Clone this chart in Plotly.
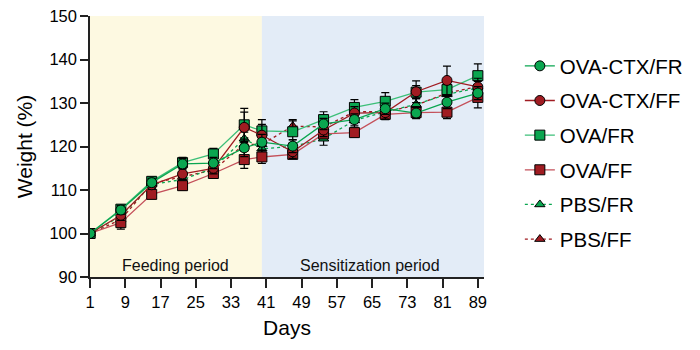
import plotly.graph_objects as go

days = [1, 8, 15, 22, 29, 36, 40, 47, 54, 61, 68, 75, 82, 89]
x_ticks = [1, 9, 17, 25, 33, 41, 49, 57, 65, 73, 81, 89]
y_ticks = [90, 100, 110, 120, 130, 140, 150]

ova_ctx_fr = [100, 105.4, 111.7, 116.0, 116.2, 119.7, 121.0, 120.1, 125.2, 126.2, 128.7, 127.7, 130.2, 132.3]
ova_ctx_fr_err = [0, 1.0, 1.0, 1.2, 1.3, 2.0, 1.8, 1.5, 1.3, 1.3, 1.3, 1.3, 1.5, 1.5]
ova_ctx_ff = [100, 104.2, 111.2, 113.7, 115.0, 124.4, 122.6, 118.8, 123.8, 127.7, 127.8, 132.6, 135.2, 133.7]
ova_ctx_ff_err = [0, 1.2, 1.0, 1.3, 1.3, 3.5, 2.5, 1.5, 1.5, 1.5, 1.5, 2.5, 3.3, 2.0]
ova_fr = [100, 105.6, 112.0, 116.3, 118.3, 125.0, 123.6, 123.4, 126.2, 129.0, 130.4, 132.5, 133.1, 136.3]
ova_fr_err = [0, 1.0, 1.0, 1.2, 1.3, 3.8, 2.6, 2.5, 1.8, 1.8, 2.0, 1.5, 1.5, 2.7]
ova_ff = [100, 102.5, 109.0, 111.0, 113.8, 117.0, 117.6, 118.2, 122.9, 123.2, 127.4, 127.8, 127.9, 131.3]
ova_ff_err = [0, 1.5, 1.0, 1.0, 1.0, 2.0, 1.5, 1.0, 1.0, 1.0, 1.2, 1.2, 1.5, 2.4]
pbs_fr = [100, 104.0, 111.3, 112.4, 115.0, 121.8, 119.5, 120.0, 121.8, 126.0, 128.0, 129.7, 132.0, 133.5]
pbs_fr_err = [0, 1.2, 1.0, 1.2, 1.2, 1.5, 1.5, 1.5, 1.5, 1.5, 1.5, 1.5, 1.5, 1.5]
pbs_ff = [100, 103.2, 111.5, 113.0, 114.6, 120.5, 120.5, 124.7, 124.5, 128.0, 128.0, 129.5, 132.3, 133.8]
pbs_ff_err = [0, 1.2, 1.0, 1.2, 1.2, 1.5, 1.5, 1.5, 1.5, 1.5, 1.5, 1.5, 1.5, 1.5]

GREEN = "#0aa650"
RED = "#a01c22"
RED_LIGHT = "#c4505a"

series = [
    # name, y, err, symbol, marker colour, line colour, dash, legend rank
    ("PBS/FF", pbs_ff, pbs_ff_err, "triangle-up", RED, RED, "dot", 6),
    ("PBS/FR", pbs_fr, pbs_fr_err, "triangle-up", GREEN, GREEN, "dot", 5),
    ("OVA/FF", ova_ff, ova_ff_err, "square", RED, RED_LIGHT, "solid", 4),
    ("OVA/FR", ova_fr, ova_fr_err, "square", GREEN, "#3cbf78", "solid", 3),
    ("OVA-CTX/FF", ova_ctx_ff, ova_ctx_ff_err, "circle", RED, RED, "solid", 2),
    ("OVA-CTX/FR", ova_ctx_fr, ova_ctx_fr_err, "circle", GREEN, GREEN, "solid", 1),
]

fig = go.Figure()
for name, y, err, sym, mcol, lcol, dash, rank in series:
    fig.add_trace(go.Scatter(
        x=days, y=y, name=name, mode="lines+markers",
        legendrank=rank, legendgroup=name,
        line=dict(color=lcol, width=1.3, dash=dash),
        marker=dict(symbol=sym, size=10 if sym != "triangle-up" else 9,
                    color=mcol, line=dict(color="black", width=1)),
        error_y=dict(type="data", array=err, visible=True,
                     color="black", thickness=1.2, width=4),
    ))

fig.add_shape(type="rect", xref="x", yref="paper", x0=1, x1=40, y0=0, y1=1,
              fillcolor="#fdf9e1", line=dict(width=0), layer="below")
fig.add_shape(type="rect", xref="x", yref="paper", x0=40, x1=90.4, y0=0, y1=1,
              fillcolor="#e3ecf7", line=dict(width=0), layer="below")

fig.add_annotation(x=20.3, y=92.6, xref="x", yref="y", text="Feeding period",
                   showarrow=False, yanchor="middle", font=dict(size=16, color="#111"))
fig.add_annotation(x=64.5, y=92.6, xref="x", yref="y", text="Sensitization period",
                   showarrow=False, yanchor="middle", font=dict(size=16, color="#111"))

fig.update_layout(
    width=700, height=350,
    margin=dict(l=82, r=224, t=8, b=81),
    paper_bgcolor="white", plot_bgcolor="white",
    font=dict(family="Liberation Sans, Arial, sans-serif", color="black"),
    legend=dict(x=1.091, y=0.885, xanchor="left", yanchor="top",
                font=dict(size=20.5), tracegroupgap=5, itemwidth=30,
                bgcolor="rgba(0,0,0,0)"),
    showlegend=True,
)
fig.update_xaxes(range=[1, 90.4], tickvals=x_ticks, ticks="outside", ticklen=9,
                 tickwidth=1.5, tickcolor="#222", showline=True, linecolor="#222",
                 linewidth=1.5, showgrid=False, zeroline=False,
                 tickfont=dict(size=16.5),
                 title=dict(text="Days", font=dict(size=21), standoff=11))
fig.update_yaxes(range=[90, 150.02], tickvals=y_ticks, ticks="outside", ticklen=8,
                 tickwidth=1.5, tickcolor="#222", showline=True, linecolor="#222",
                 linewidth=1.5, showgrid=False, zeroline=False, automargin=False,
                 tickfont=dict(size=16.5), ticklabeloverflow="allow",
                 title=dict(text="Weight (%)", font=dict(size=21), standoff=11))

fig.write_html("out.html")
